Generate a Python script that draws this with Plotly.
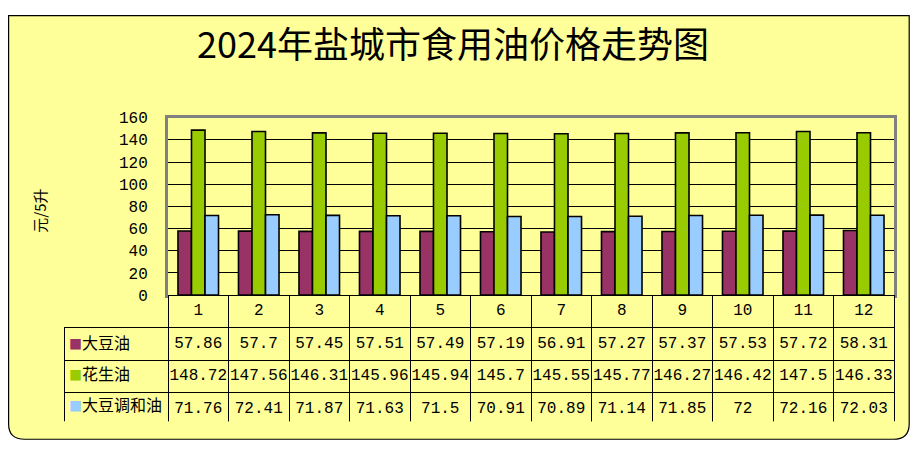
import plotly.graph_objects as go

# data
months = ["1", "2", "3", "4", "5", "6", "7", "8", "9", "10", "11", "12"]
soybean = [57.86, 57.7, 57.45, 57.51, 57.49, 57.19, 56.91, 57.27, 57.37, 57.53, 57.72, 58.31]
peanut = [148.72, 147.56, 146.31, 145.96, 145.94, 145.7, 145.55, 145.77, 146.27, 146.42, 147.5, 146.33]
blend = [71.76, 72.41, 71.87, 71.63, 71.5, 70.91, 70.89, 71.14, 71.85, 72, 72.16, 72.03]
series_names = ["大豆油", "花生油", "大豆调和油"]
series_colors = ["#993366", "#99CC00", "#99CCFF"]

BG = "#FFFF99"
OFF = 8  # default body margin of the html page
W, H = 918 - 2 * OFF, 459 - 2 * OFF
NUM_FONT = "Liberation Mono, Noto Sans CJK SC"
CJK_FONT = "Noto Sans CJK SC"


def fx(p):  # window pixel -> paper x
    return (p - OFF) / W


def fy(p):  # window pixel -> paper y
    return 1 - (p - OFF) / H


# plot area / table placement (window pixels)
px_left, px_right = 168, 894
plot_top, plot_bottom = 115, 300
tab_left, row_h = 64, 32.5
tab_bottom = plot_bottom + 4 * row_h + 2

fig = go.Figure()

for name, vals, col in zip(series_names, [soybean, peanut, blend], series_colors):
    fig.add_trace(go.Bar(
        x=months, y=vals, name=name,
        marker=dict(color=col, line=dict(color="black", width=1.6)),
        showlegend=False,
    ))

# data table below the plot (legend column labels are added as annotations)
table_cols = [["", "", ""]] + [[f"{s:g}", f"{p:g}", f"{b:g}"] for s, p, b in zip(soybean, peanut, blend)]
fig.add_trace(go.Table(
    domain=dict(x=[fx(tab_left), fx(px_right)], y=[fy(tab_bottom), fy(plot_bottom)]),
    columnwidth=[104] + [60.5] * 12,
    header=dict(
        values=[""] + months,
        fill_color=["rgba(0,0,0,0)"] + [BG] * 12,
        line=dict(color=["rgba(0,0,0,0)"] + ["black"] * 12, width=1),
        align="center",
        height=row_h,
        font=dict(family=NUM_FONT, size=16, color="black"),
    ),
    cells=dict(
        values=table_cols,
        fill_color=BG,
        line=dict(color="black", width=1),
        align="center",
        height=row_h,
        font=dict(family=NUM_FONT, size=16, color="black"),
    ),
))

annotations = [dict(
    text="元/5升", textangle=-90,
    x=fx(40), y=fy(212), xref="paper", yref="paper",
    xanchor="center", yanchor="middle",
    showarrow=False,
    font=dict(family=CJK_FONT, size=15, color="black"),
)]
for i, (n, c) in enumerate(zip(series_names, series_colors)):
    row_mid = plot_bottom + (i + 1.5) * row_h
    annotations.append(dict(
        text=f"<span style='color:{c};font-size:13px'>■</span>{n}",
        x=fx(tab_left + 3), y=fy(row_mid), xref="paper", yref="paper",
        xanchor="left", yanchor="middle", showarrow=False,
        font=dict(family=CJK_FONT, size=16, color="black"),
    ))

# rounded chart border
r = 16
x0, y0, x1, y1 = 0.6 / W, 1 - 0.6 / H, 1 - 0.8 / W, 0.8 / H
rx, ry = r / W, r / H
fig.add_shape(
    type="path", xref="paper", yref="paper", layer="below",
    path=(f"M {x0} {y0} L {x1} {y0} L {x1} {y1 + ry} "
          f"Q {x1} {y1} {x1 - rx} {y1} L {x0 + rx} {y1} "
          f"Q {x0} {y1} {x0} {y1 + ry} Z"),
    fillcolor=BG, line=dict(color="black", width=1.2),
)

fig.update_layout(
    width=W, height=H,
    margin=dict(l=0, r=0, t=0, b=0),
    paper_bgcolor="white",
    plot_bgcolor=BG,
    barmode="group",
    bargap=0.33,
    bargroupgap=0,
    title=dict(
        text="2024年盐城市食用油价格走势图",
        x=fx(453), y=fy(45), xanchor="center", yanchor="middle",
        font=dict(family=CJK_FONT, size=36, color="black"),
    ),
    xaxis=dict(
        domain=[fx(px_left), fx(px_right)],
        showticklabels=False, ticks="",
        showline=True, linecolor="#808080", linewidth=3, mirror=True,
        showgrid=False,
    ),
    yaxis=dict(
        domain=[fy(plot_bottom), fy(plot_top)],
        range=[0, 160], dtick=20,
        showline=True, linecolor="#808080", linewidth=3, mirror=True,
        gridcolor="black", gridwidth=1,
        ticks="", ticklabelstandoff=14,
        tickfont=dict(family=NUM_FONT, size=16, color="black"),
        zeroline=False,
    ),
    annotations=annotations,
)

fig.write_html("out.html")
